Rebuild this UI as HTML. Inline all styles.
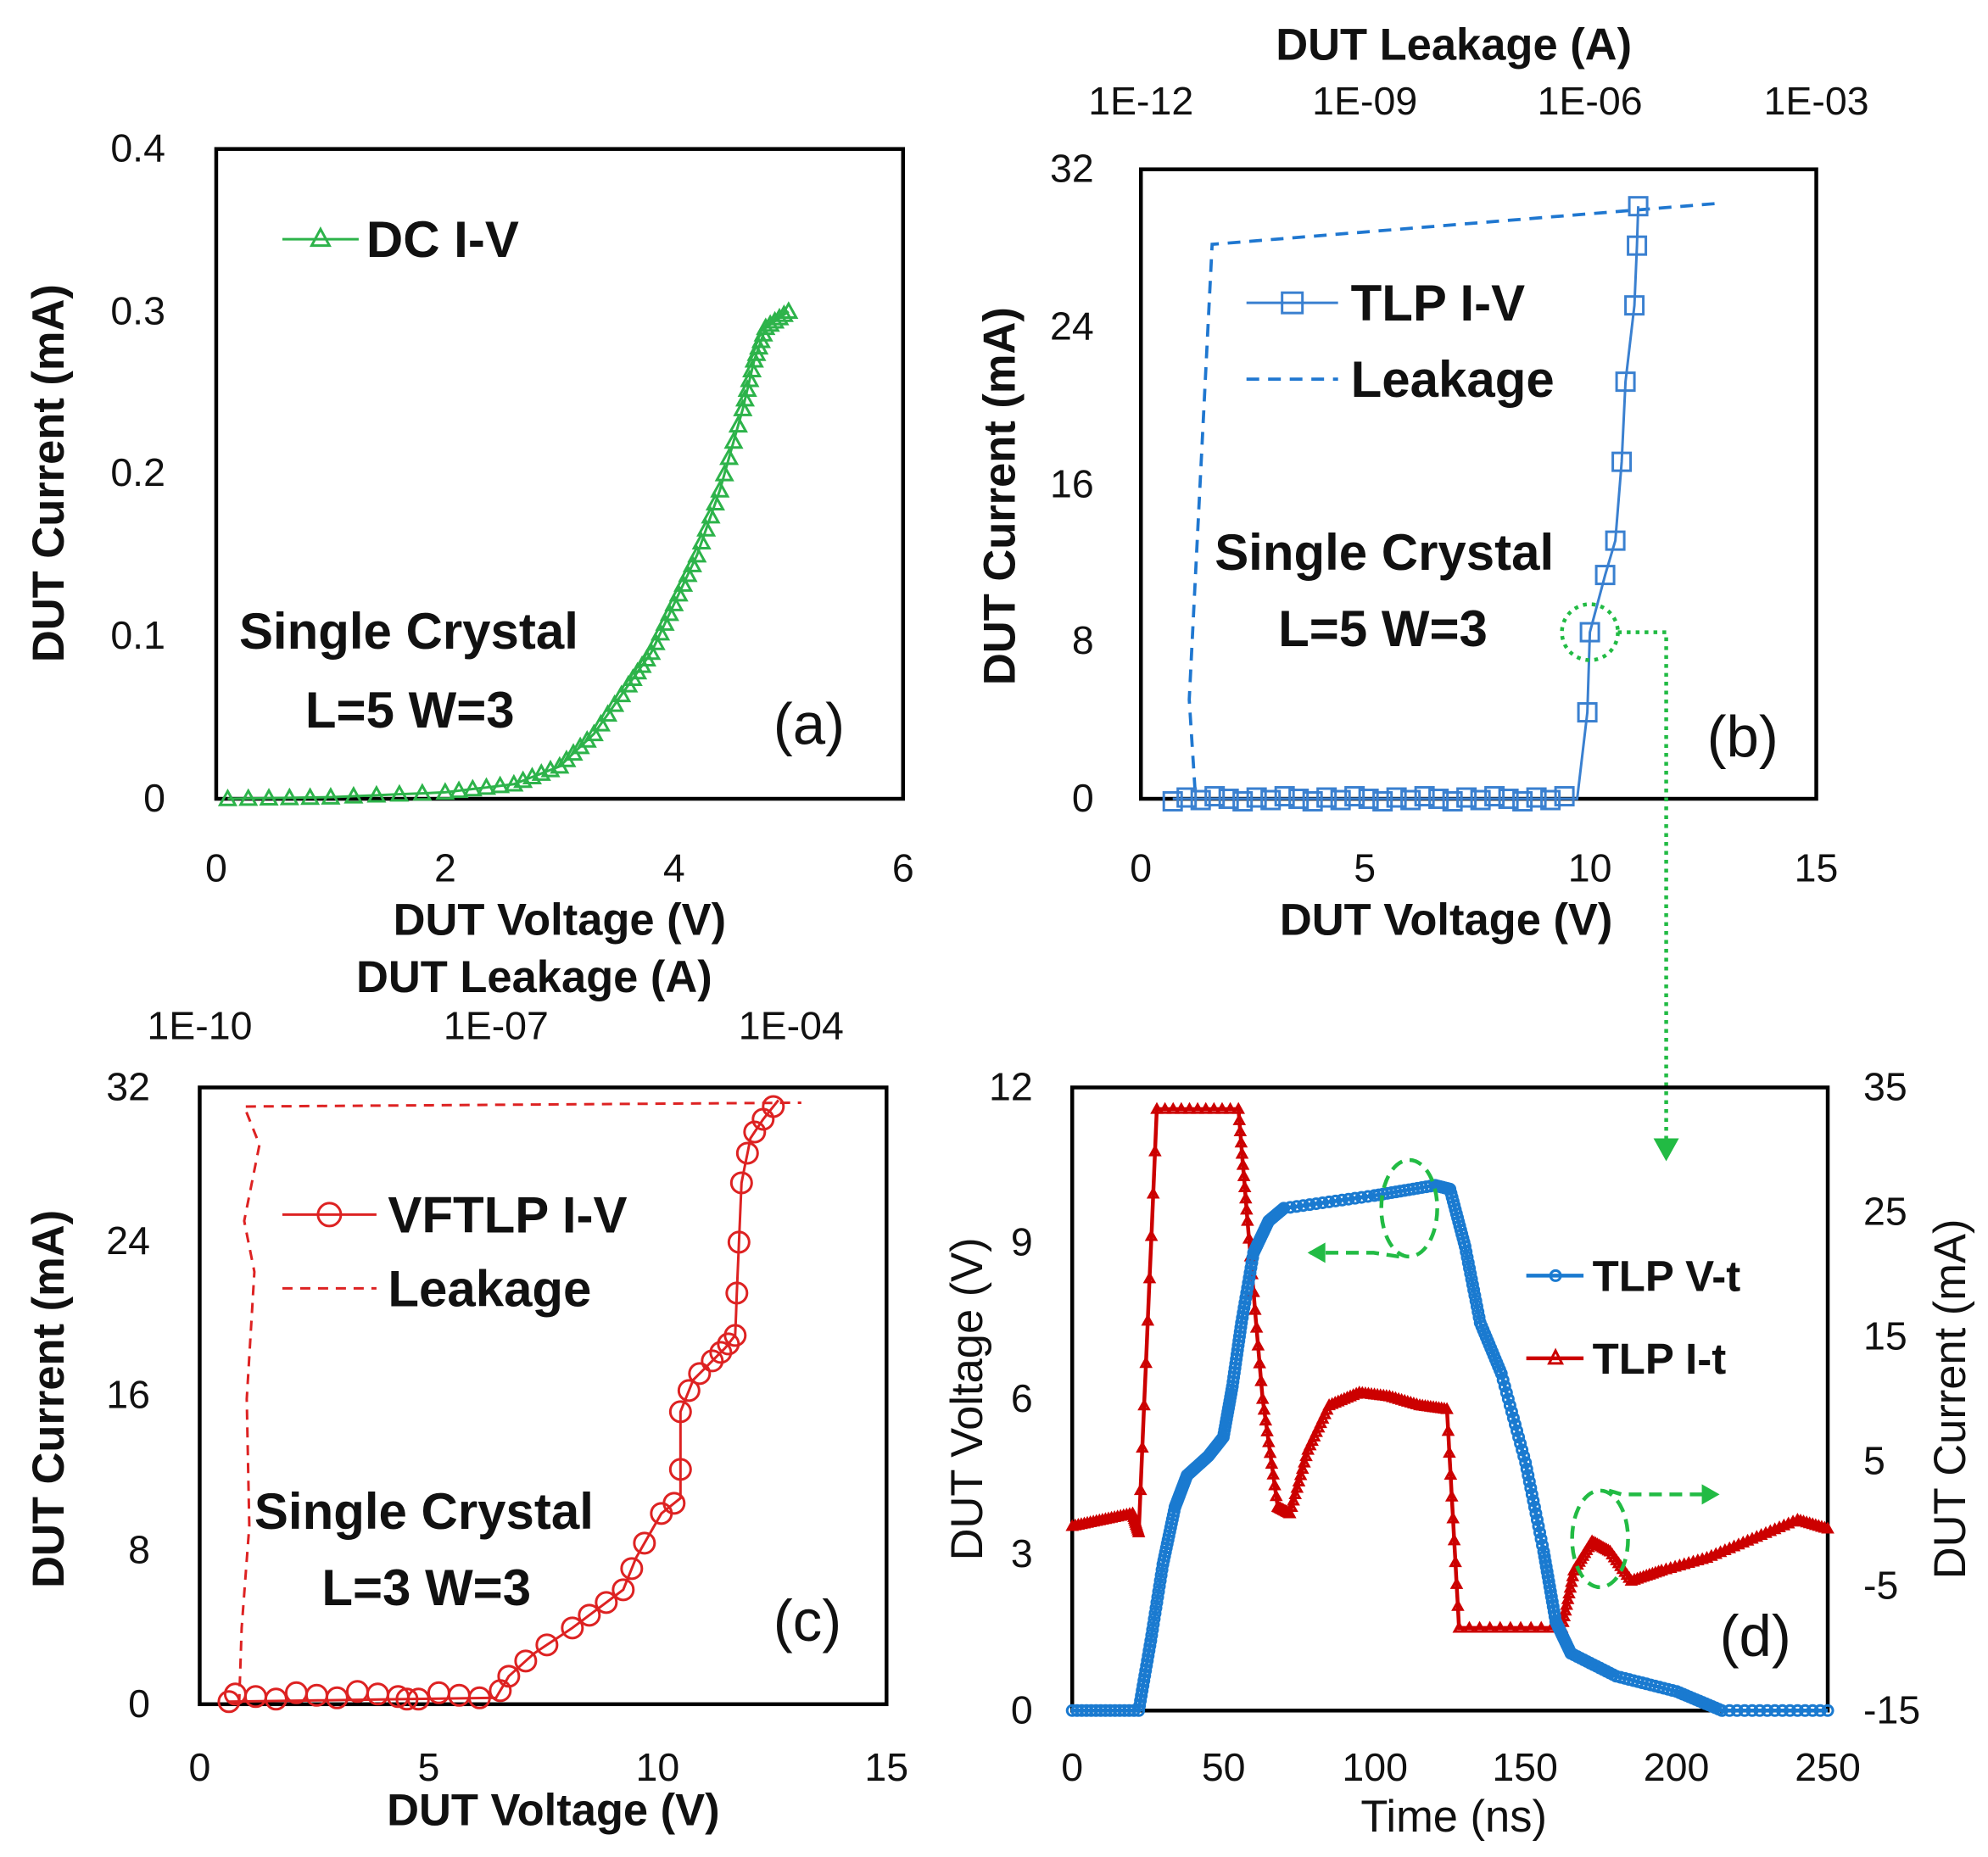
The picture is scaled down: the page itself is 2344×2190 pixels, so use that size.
<!DOCTYPE html>
<html><head><meta charset="utf-8"><style>
html,body{margin:0;padding:0;background:#fff;}
svg{display:block;}
text{font-family:"Liberation Sans",sans-serif;fill:#111;}
.t{font-size:31px;}
.ax{font-size:35px;font-weight:bold;}
.lg{font-size:40px;font-weight:bold;}
.pl{font-size:46px;}
</style></head><body>
<svg id="s" width="2344" height="2190" viewBox="0 0 1563 1460" xmlns="http://www.w3.org/2000/svg">
<!-- Panel a -->
<rect x="170" y="117" width="540" height="511" fill="none" stroke="#000" stroke-width="3"/>
<g text-anchor="end">
<text x="130" y="638" class="t">0</text><text x="130" y="510" class="t">0.1</text><text x="130" y="382" class="t">0.2</text><text x="130" y="255" class="t">0.3</text><text x="130" y="127" class="t">0.4</text></g>
<g text-anchor="middle"><text x="170" y="693" class="t">0</text><text x="350" y="693" class="t">2</text><text x="530" y="693" class="t">4</text><text x="710" y="693" class="t">6</text>
<text x="440" y="735" class="ax">DUT Voltage (V)</text>
<text transform="translate(50,372) rotate(-90)" class="ax">DUT Current (mA)</text></g>
<polyline id="pa" fill="none" stroke="#2db34a" stroke-width="2"/>
<g id="ma"></g>
<line x1="222" y1="188" x2="282" y2="188" stroke="#2db34a" stroke-width="2"/>
<polygon points="252,180 259,193 245,193" fill="none" stroke="#2db34a" stroke-width="2"/>
<text x="288" y="202" class="lg">DC I-V</text>
<text x="188" y="510" class="lg">Single Crystal</text>
<text x="240" y="572" class="lg">L=5 W=3</text>
<text x="608" y="585" class="pl">(a)</text>

<!-- Panel b -->
<rect x="897" y="133" width="531" height="495" fill="none" stroke="#000" stroke-width="3"/>
<g text-anchor="end"><text x="860" y="638" class="t">0</text><text x="860" y="514" class="t">8</text><text x="860" y="391" class="t">16</text><text x="860" y="267" class="t">24</text><text x="860" y="143" class="t">32</text></g>
<g text-anchor="middle"><text x="897" y="693" class="t">0</text><text x="1073" y="693" class="t">5</text><text x="1250" y="693" class="t">10</text><text x="1428" y="693" class="t">15</text>
<text x="1137" y="735" class="ax">DUT Voltage (V)</text>
<text x="897" y="90" class="t">1E-12</text><text x="1073" y="90" class="t">1E-09</text><text x="1250" y="90" class="t">1E-06</text><text x="1428" y="90" class="t">1E-03</text>
<text x="1143" y="47" class="ax">DUT Leakage (A)</text>
<text transform="translate(798,390) rotate(-90)" class="ax">DUT Current (mA)</text></g>
<polyline points="1348,160 953,192 935,550 940,628" fill="none" stroke="#1f77d0" stroke-width="2.5" stroke-dasharray="10,7"/>
<polyline id="pb" fill="none" stroke="#3a80d0" stroke-width="2"/>
<g id="mb"></g>
<line x1="980" y1="238" x2="1052" y2="238" stroke="#3a80d0" stroke-width="2"/>
<rect x="1008" y="230" width="16" height="16" fill="none" stroke="#3a80d0" stroke-width="2"/>
<text x="1062" y="252" class="lg">TLP I-V</text>
<line x1="980" y1="298" x2="1052" y2="298" stroke="#1f77d0" stroke-width="2.5" stroke-dasharray="10,7"/>
<text x="1062" y="312" class="lg">Leakage</text>
<text x="955" y="448" class="lg">Single Crystal</text>
<text x="1005" y="508" class="lg">L=5 W=3</text>
<text x="1342" y="595" class="pl">(b)</text>
<circle cx="1250" cy="497" r="22" fill="none" stroke="#22bb44" stroke-width="3" stroke-dasharray="3,4"/>
<polyline points="1272,497 1310,497 1310,900" fill="none" stroke="#22bb44" stroke-width="3" stroke-dasharray="3,4"/>
<polygon points="1300,895 1320,895 1310,913" fill="#22bb44"/>

<!-- Panel c -->
<rect x="157" y="855" width="540" height="485" fill="none" stroke="#000" stroke-width="3"/>
<g text-anchor="end"><text x="118" y="1350" class="t">0</text><text x="118" y="1229" class="t">8</text><text x="118" y="1107" class="t">16</text><text x="118" y="986" class="t">24</text><text x="118" y="865" class="t">32</text></g>
<g text-anchor="middle"><text x="157" y="1400" class="t">0</text><text x="337" y="1400" class="t">5</text><text x="517" y="1400" class="t">10</text><text x="697" y="1400" class="t">15</text>
<text x="435" y="1435" class="ax">DUT Voltage (V)</text>
<text x="157" y="817" class="t">1E-10</text><text x="390" y="817" class="t">1E-07</text><text x="622" y="817" class="t">1E-04</text>
<text x="420" y="780" class="ax">DUT Leakage (A)</text>
<text transform="translate(50,1100) rotate(-90)" class="ax">DUT Current (mA)</text></g>
<polyline points="188,1340 190,1280 196,1200 194,1100 200,1000 192,960 204,900 192,870 630,867" fill="none" stroke="#d22" stroke-width="2" stroke-dasharray="8,6"/>
<polyline id="pc" fill="none" stroke="#d22" stroke-width="2"/>
<g id="mc"></g>
<line x1="222" y1="955" x2="296" y2="955" stroke="#d22" stroke-width="2"/>
<circle cx="259" cy="955" r="9" fill="none" stroke="#d22" stroke-width="2"/>
<text x="305" y="969" class="lg">VFTLP I-V</text>
<line x1="222" y1="1013" x2="296" y2="1013" stroke="#d22" stroke-width="2" stroke-dasharray="8,6"/>
<text x="305" y="1027" class="lg">Leakage</text>
<text x="200" y="1202" class="lg">Single Crystal</text>
<text x="253" y="1262" class="lg">L=3 W=3</text>
<text x="608" y="1290" class="pl">(c)</text>

<!-- Panel d -->
<rect x="843" y="855" width="594" height="490" fill="none" stroke="#000" stroke-width="3"/>
<g text-anchor="end"><text x="812" y="1355" class="t">0</text><text x="812" y="1232" class="t">3</text><text x="812" y="1110" class="t">6</text><text x="812" y="987" class="t">9</text><text x="812" y="865" class="t">12</text></g>
<g text-anchor="start"><text x="1465" y="1355" class="t">-15</text><text x="1465" y="1257" class="t">-5</text><text x="1465" y="1159" class="t">5</text><text x="1465" y="1061" class="t">15</text><text x="1465" y="963" class="t">25</text><text x="1465" y="865" class="t">35</text></g>
<g text-anchor="middle"><text x="843" y="1400" class="t">0</text><text x="962" y="1400" class="t">50</text><text x="1081" y="1400" class="t">100</text><text x="1199" y="1400" class="t">150</text><text x="1318" y="1400" class="t">200</text><text x="1437" y="1400" class="t">250</text>
<text x="1143" y="1440" class="ax" style="font-weight:normal">Time (ns)</text>
<text transform="translate(772,1100) rotate(-90)" class="ax" style="font-weight:normal">DUT Voltage (V)</text>
<text transform="translate(1545,1100) rotate(-90)" class="ax" style="font-weight:normal">DUT Current (mA)</text></g>
<polyline id="pr" fill="none" stroke="#c00" stroke-width="3"/>
<g id="mr"></g>
<polyline id="pv" fill="none" stroke="#1a7ad0" stroke-width="3"/>
<g id="mv"></g>
<ellipse cx="1108" cy="950" rx="22" ry="38" fill="none" stroke="#22bb44" stroke-width="3" stroke-dasharray="10,6"/>
<polyline points="1100,988 1080,985 1030,985" fill="none" stroke="#22bb44" stroke-width="3" stroke-dasharray="10,6"/>
<polygon points="1028,985 1042,977 1042,993" fill="#22bb44"/>
<ellipse cx="1258" cy="1210" rx="22" ry="38" fill="none" stroke="#22bb44" stroke-width="3" stroke-dasharray="10,6"/>
<polyline points="1265,1172 1275,1175 1345,1175" fill="none" stroke="#22bb44" stroke-width="3" stroke-dasharray="10,6"/>
<polygon points="1352,1175 1338,1167 1338,1183" fill="#22bb44"/>
<line x1="1200" y1="1003" x2="1245" y2="1003" stroke="#1a7ad0" stroke-width="3"/><circle cx="1223" cy="1003" r="4" fill="none" stroke="#1a7ad0" stroke-width="2"/>
<text x="1252" y="1015" class="lg" style="font-size:34px">TLP V-t</text>
<line x1="1200" y1="1068" x2="1245" y2="1068" stroke="#c00" stroke-width="3"/><polygon points="1223,1062 1228,1072 1218,1072" fill="none" stroke="#c00" stroke-width="2"/>
<text x="1252" y="1080" class="lg" style="font-size:34px">TLP I-t</text>
<text x="1352" y="1302" class="pl">(d)</text>
</svg>
<script>
function interp(pts,n){var out=[];for(var i=0;i<pts.length-1;i++){for(var k=0;k<n;k++){var t=k/n;out.push([pts[i][0]+(pts[i+1][0]-pts[i][0])*t,pts[i][1]+(pts[i+1][1]-pts[i][1])*t]);}}out.push(pts[pts.length-1]);return out;}
function ps(a){return a.map(function(p){return p[0].toFixed(1)+','+p[1].toFixed(1)}).join(' ');}
var NS='http://www.w3.org/2000/svg';
function mk(g,pts,type,col,sz){var G=document.getElementById(g);pts.forEach(function(p){var e;
if(type=='tri'){e=document.createElementNS(NS,'polygon');e.setAttribute('points',p[0]+','+(p[1]-sz)+' '+(p[0]+sz)+','+(p[1]+sz*0.8)+' '+(p[0]-sz)+','+(p[1]+sz*0.8));}
else if(type=='sq'){e=document.createElementNS(NS,'rect');e.setAttribute('x',p[0]-sz);e.setAttribute('y',p[1]-sz);e.setAttribute('width',2*sz);e.setAttribute('height',2*sz);}
else{e=document.createElementNS(NS,'circle');e.setAttribute('cx',p[0]);e.setAttribute('cy',p[1]);e.setAttribute('r',sz);}
e.setAttribute('fill','none');e.setAttribute('stroke',col);e.setAttribute('stroke-width',2);G.appendChild(e);});}
// a
var A=[[0.1,0],[1,0.001],[2,0.004],[2.6,0.009],[3,0.02],[3.3,0.04],[3.6,0.07],[3.8,0.09],[4,0.12],[4.2,0.15],[4.4,0.19],[4.6,0.24],[4.7,0.27],[4.8,0.29],[5,0.30]].map(function(p){return[170+p[0]*90,628-p[1]*1277.5]});
var Aa=interp(A,5);document.getElementById('pa').setAttribute('points',ps(Aa));mk('ma',Aa,'tri','#2db34a',6);
// b
var B=[[922,628],[1240,628],[1248,560],[1250,497],[1262,452],[1270,425],[1275,363],[1278,300],[1285,240],[1287,193],[1288,162]];
document.getElementById('pb').setAttribute('points',ps(B));
var Bm=[];for(var x=922;x<=1240;x+=11)Bm.push([x,628+((x*7)%5-2)]);B.slice(2).forEach(function(p){Bm.push(p)});mk('mb',Bm,'sq','#3a80d0',7);
// c
var C=[[180,1338],[390,1335],[400,1318],[420,1300],[450,1280],[470,1265],[490,1250],[500,1225],[520,1190],[535,1178],[535,1110],[545,1085],[560,1070],[570,1060],[578,1050],[580,1000],[583,930],[590,895],[600,880],[612,865]];
var Cc=interp(C,3);document.getElementById('pc').setAttribute('points',ps(Cc));
var Cm=Cc.filter(function(_,i){return i%2==0});for(var x=185;x<390;x+=16)Cm.push([x,1336-((x*13)%7)]);mk('mc',Cm,'c','#d22',8);
// d
function tx(t){return 843+t*2.376;}
var V=[[0,1345],[22,1345],[26,1290],[30,1230],[34,1185],[38,1160],[45,1145],[50,1130],[53,1090],[56,1040],[60,985],[65,960],[70,950],[100,940],[120,932],[125,935],[130,980],[135,1040],[142,1080],[150,1150],[156,1220],[160,1275],[165,1300],[180,1318],[200,1330],[215,1345],[250,1345]].map(function(p){return[tx(p[0]),p[1]]});
var Vv=interp(V,14);document.getElementById('pv').setAttribute('points',ps(Vv));mk('mv',Vv,'c','#1a7ad0',4);
var R=[[0,1200],[10,1195],[20,1190],[22,1205],[28,872],[55,872],[58,960],[63,1100],[68,1185],[72,1190],[78,1140],[85,1105],[95,1095],[105,1098],[115,1105],[124,1108],[128,1280],[162,1280],[166,1235],[172,1212],[178,1220],[185,1243],[195,1235],[210,1225],[225,1210],[240,1195],[250,1202]].map(function(p){return[tx(p[0]),p[1]]});
var Rr=interp(R,10);document.getElementById('pr').setAttribute('points',ps(Rr));mk('mr',Rr,'tri','#c00',3.5);
</script>
</body></html>
